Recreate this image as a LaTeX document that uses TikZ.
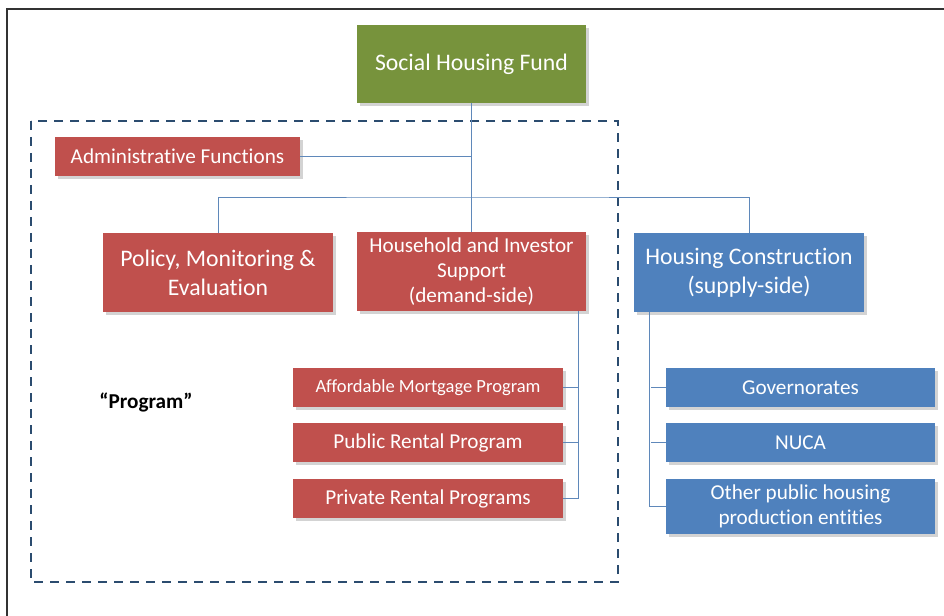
\documentclass[tikz,border=0pt]{standalone}
\usepackage{fontspec}
\setmainfont[Ligatures=NoCommon]{Carlito}
\usetikzlibrary{shadows}
\definecolor{fundgreen}{HTML}{77933C}
\definecolor{progred}{HTML}{C0504D}
\definecolor{supplyblue}{HTML}{4F81BD}
\definecolor{framedash}{HTML}{2B4C6F}
\definecolor{linkblue}{HTML}{5F88BA}

\begin{document}
\begin{tikzpicture}[x=0.75pt,y=-0.75pt,
	box/.style={draw=none,text=white,align=center,inner sep=0pt,
		drop shadow={shadow xshift=2pt,shadow yshift=-2pt,opacity=0.35}},
	fundbox/.style={box,fill=fundgreen},
	redbox/.style={box,fill=progred},
	bluebox/.style={box,fill=supplyblue},
	link/.style={draw=linkblue,line width=0.6pt}]
				\useasboundingbox (0,0) rectangle (944,616);
				\draw[line width=1.2pt,black!80] (7,616) -- (7,9) -- (944,9);
				\draw[framedash,dashed,line width=1.6pt,dash pattern=on 7pt off 5pt] (31,121) rectangle (618,582);
				
				\node[fundbox,minimum width=229*0.75pt,minimum height=78*0.75pt,font=\fontsize{17.8}{21}\selectfont] (fund) at (471.5,64) {Social Housing Fund};
				\node[redbox,minimum width=245*0.75pt,minimum height=39*0.75pt,font=\fontsize{15.9}{18}\selectfont] (admin) at (177.5,156.5) {Administrative Functions};
				\node[redbox,minimum width=230*0.75pt,minimum height=79*0.75pt,font=\fontsize{17.8}{21.8}\selectfont] (policy) at (218,272.5) {Policy, Monitoring \&\\Evaluation};
				\node[redbox,minimum width=229*0.75pt,minimum height=79*0.75pt,font=\fontsize{15.9}{19}\selectfont] (household) at (471.5,271.5) {Household and Investor\\Support\\(demand-side)};
				\node[bluebox,minimum width=230*0.75pt,minimum height=79*0.75pt,font=\fontsize{17.8}{21.8}\selectfont] (construct) at (749,272.5) {Housing Construction\\(supply-side)};
				
				\node[redbox,minimum width=270*0.75pt,minimum height=39*0.75pt,font=\fontsize{13.9}{16}\selectfont] (mortgage) at (428,387.5) {Affordable Mortgage Program};
				\node[redbox,minimum width=270*0.75pt,minimum height=39*0.75pt,font=\fontsize{15.9}{18}\selectfont] (pubrent) at (428,442.5) {Public Rental Program};
				\node[redbox,minimum width=270*0.75pt,minimum height=39*0.75pt,font=\fontsize{15.9}{18}\selectfont] (privrent) at (428,498.5) {Private Rental Programs};
				
				\node[bluebox,minimum width=269*0.75pt,minimum height=39*0.75pt,font=\fontsize{15.9}{18}\selectfont] (gov) at (800.5,387.5) {Governorates};
				\node[bluebox,minimum width=269*0.75pt,minimum height=39*0.75pt,font=\fontsize{15.9}{18}\selectfont] (nuca) at (800.5,442.5) {NUCA};
				\node[bluebox,minimum width=269*0.75pt,minimum height=55*0.75pt,font=\fontsize{15.9}{18.8}\selectfont] (other) at (800.5,506.5) {Other public housing\\production entities};
				
				\node[font=\fontsize{15.9}{18}\selectfont\bfseries] (prog) at (146,402) {“Program”};
				
				\coordinate (bus) at (471.5,197);
				\draw[link] (fund.south) -- (household.north);
				\draw[link] (admin.east) -- (admin.east -| fund.south);
				\draw[link] (policy.north) |- (bus) -| (construct.north);
				
				\draw[link] ([xshift=-6pt]household.south east) |- (privrent.east);
				\draw[link] (mortgage.east) -- ++(15,0);
				\draw[link] (pubrent.east) -- ++(15,0);
				
				\draw[link] ([xshift=12pt]construct.south west) |- (other.west);
				\draw[link] (gov.west) -- ++(-15,0);
				\draw[link] (nuca.west) -- ++(-15,0);
			\end{tikzpicture}
\end{document}
